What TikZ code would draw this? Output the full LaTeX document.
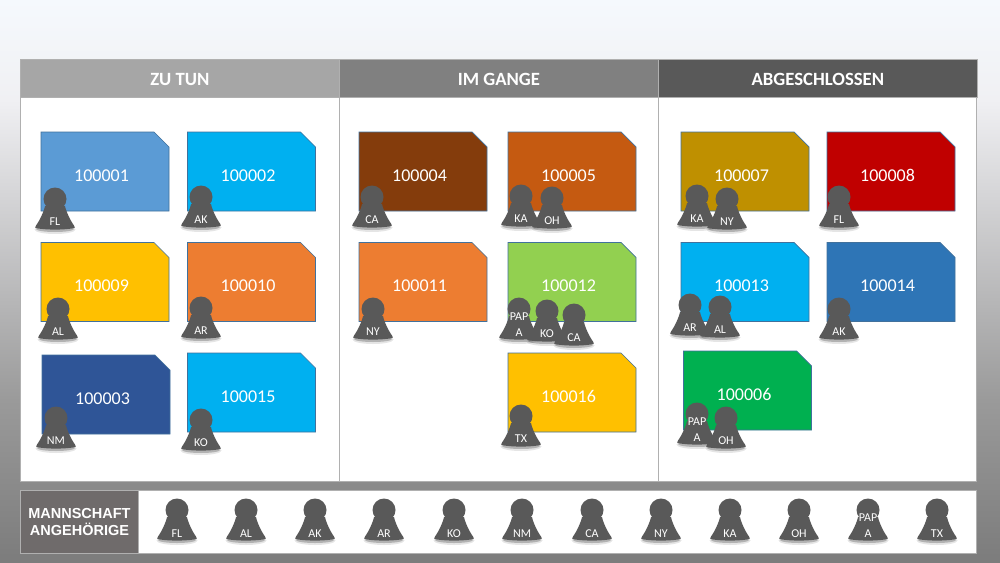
\documentclass[tikz,border=0pt]{standalone}
\usepackage{fontspec}
\setmainfont{Carlito}
\newfontfamily\arialfont{Liberation Sans}
\usetikzlibrary{positioning, shapes.misc}
\definecolor{boardline}{HTML}{B0B0B0}
\definecolor{cardline}{HTML}{41719C}
\definecolor{pawngray}{HTML}{595959}
\definecolor{teamgray}{HTML}{6F6B6B}
\definecolor{skytop}{HTML}{F5F9FD}
\definecolor{skymid}{HTML}{F0F0F3}
\definecolor{skylow}{HTML}{9A9A9A}
\definecolor{skyend}{HTML}{7C7C7C}

\tikzset{
    card/.style={chamfered rectangle, chamfered rectangle corners=north east, chamfered rectangle sep=7.5pt,
        minimum width=128pt, minimum height=79pt, inner sep=0pt, draw=cardline, line width=0.7pt,
        text=white, font=\fontsize{18}{20}\selectfont, text height=19.4pt, text depth=0pt,
        execute at begin node={\hspace*{-7pt}}},
    header/.style={minimum width=319pt, minimum height=38pt, inner sep=0pt, anchor=north west, text=white,
        draw=boardline, line width=0.7pt, font=\fontsize{18.7}{20}\selectfont\bfseries, text height=13.4pt, text depth=0pt},
    pawnbase/.store in=\pawnbase,
    pawnbase=26.5,
    pawnlabel/.style={text=white, font=\fontsize{12}{16}\selectfont, align=center, inner sep=0pt},
    person/.pic={
        \fill[black, opacity=0.10] (0,30.5) ellipse (20.5pt and 4.5pt);
        \fill[black, opacity=0.22] (0,30) ellipse (19pt and 3pt);
        \fill[pawngray] (-10,7) .. controls (-11,12) and (-15,21) .. (-19,26.5)
            .. controls (-20.5,28.5) and (-20,29) .. (-18,29.3)
            .. controls (-8,31) and (8,31) .. (18,29.3)
            .. controls (20,29) and (20.5,28.5) .. (19,26.5)
            .. controls (15,21) and (11,12) .. (10,7) -- cycle;
        \fill[pawngray] (0,0) circle (11.5pt);
        \node[pawnlabel, anchor=south] (-name) at (0,\pawnbase) {#1};
    }
}

\begin{document}
\begin{tikzpicture}[x=1pt, y=-1pt, on grid]
   \useasboundingbox (0,0) rectangle (1000,562);

   % Background and board
   \shade[top color=skytop, bottom color=skymid] (0,0) rectangle (1000,100.5);
   \shade[top color=skymid, bottom color=skylow] (0,100) rectangle (1000,400.5);
   \shade[top color=skylow, bottom color=skyend] (0,400) rectangle (1000,562);
   \fill[white, draw=boardline, line width=0.9pt] (20,97) rectangle (976,481);
   \draw[boardline, line width=0.9pt] (339,97) -- (339,481) (658,97) -- (658,481);

   % Column headers
   \node[header, fill=black!35] (todo) at (20,59) {ZU TUN};
   \node[header, fill=black!50] (doing) at (339,59) {IM GANGE};
   \node[header, fill=black!65] (done) at (658,59) {ABGESCHLOSSEN};

   % First column
   \node[card, fill={rgb,255:red,91;green,155;blue,213}] (c1) at (105,171.5) {100001};
   \node[card, fill={rgb,255:red,0;green,176;blue,240}] (c2) [right=146.5pt of c1] {100002};
   \node[card, fill={rgb,255:red,255;green,192;blue,0}] (c9) [below=110.5pt of c1] {100009};
   \node[card, fill={rgb,255:red,237;green,125;blue,49}] (c10) [right=146.5pt of c9] {100010};
   \node[card, fill={rgb,255:red,47;green,85;blue,151}] (c3) at (106,394.5) {100003};
   \node[card, fill={rgb,255:red,0;green,176;blue,240}] (c15) [below=110.5pt of c10] {100015};

   % Second column
   \node[card, fill={rgb,255:red,132;green,60;blue,12}] (c4) at (423,171.5) {100004};
   \node[card, fill={rgb,255:red,197;green,90;blue,17}] (c5) [right=149pt of c4] {100005};
   \node[card, fill={rgb,255:red,237;green,125;blue,49}] (c11) [below=110.5pt of c4] {100011};
   \node[card, fill={rgb,255:red,146;green,208;blue,80}] (c12) [right=149pt of c11] {100012};
   \node[card, fill={rgb,255:red,255;green,192;blue,0}] (c16) [below=110.5pt of c12] {100016};

   % Third column
   \node[card, fill={rgb,255:red,191;green,144;blue,0}] (c7) at (745,171.5) {100007};
   \node[card, fill={rgb,255:red,192;green,0;blue,0}] (c8) [right=146pt of c7] {100008};
   \node[card, fill={rgb,255:red,0;green,176;blue,240}] (c13) [below=110.5pt of c7] {100013};
   \node[card, fill={rgb,255:red,46;green,117;blue,182}] (c14) [right=146pt of c13] {100014};
   \node[card, fill={rgb,255:red,0;green,176;blue,80}] (c6) at (747.5,390.5) {100006};

   % People on the cards
   \pic (pa) at (55,199) {person=FL};
   \pic (pb) at (201,197) {person=AK};
   \pic (pc) at (58,309) {person=AL};
   \pic (pd) at (201,308) {person=AR};
   \pic (pe) at (56,418) {person=NM};
   \pic (pf) at (201,420) {person=KO};
   \pic (pg) at (372,197) {person=CA};
   \pic (ph) at (521,196) {person=KA};
   \pic (pi) at (552,198) {person=OH};
   \pic (pj) at (373,309) {person=NY};
   \pic[pawnbase=27.5] (pk) at (519,309) {person={PAP\\A}};
   \pic (pl) at (547,311) {person=KO};
   \pic (pm) at (574,315) {person=CA};
   \pic (pn) at (521,416) {person=TX};
   \pic (po) at (697,196) {person=KA};
   \pic (pp) at (727,199) {person=NY};
   \pic (pq) at (839,197) {person=FL};
   \pic (pr) at (690,305) {person=AR};
   \pic (ps) at (720,307) {person=AL};
   \pic (pt) at (839,309) {person=AK};
   \pic[pawnbase=27.5] (pu) at (697,414) {person={PAP\\A}};
   \pic (pv) at (726,418) {person=OH};

   % Team band
   \fill[white, draw=boardline, line width=0.9pt] (20,490) rectangle (976,553);
   \node[fill=teamgray, draw=boardline, line width=0.9pt, minimum width=118pt, minimum height=63pt, inner sep=0pt, anchor=north west,
       text=white, align=center, font=\arialfont\fontsize{14.5}{17.5}\selectfont\bfseries] (team) at (20,490) {MANNSCHAFT\\ANGEHÖRIGE};
   \pic[pawnbase=27.5] (ta) at (177,510) {person=FL};
   \pic[pawnbase=27.5] (tb) at (246,510) {person=AL};
   \pic[pawnbase=27.5] (tc) at (315,510) {person=AK};
   \pic[pawnbase=27.5] (td) at (384,510) {person=AR};
   \pic[pawnbase=27.5] (te) at (454,510) {person=KO};
   \pic[pawnbase=27.5] (tf) at (522,510) {person=NM};
   \pic[pawnbase=27.5] (tg) at (592,510) {person=CA};
   \pic[pawnbase=27.5] (th) at (661,510) {person=NY};
   \pic[pawnbase=27.5] (ti) at (730,510) {person=KA};
   \pic[pawnbase=27.5] (tj) at (799,510) {person=OH};
   \pic[pawnbase=27.5] (tk) at (868,510) {person={PAP\\A}};
   \pic[pawnbase=27.5] (tl) at (937,510) {person=TX};
\end{tikzpicture}
\end{document}
